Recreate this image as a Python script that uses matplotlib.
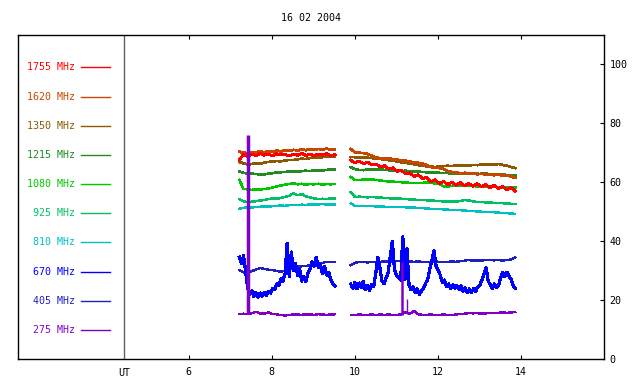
import numpy as np
import matplotlib
matplotlib.use("Agg")
import matplotlib.pyplot as plt
from matplotlib.transforms import blended_transform_factory

# channel names and colours (top to bottom in the legend)
channels = ["1755 MHz", "1620 MHz", "1350 MHz", "1215 MHz", "1080 MHz",
            "925 MHz", "810 MHz", "670 MHz", "405 MHz", "275 MHz"]
colors = ["#ff0000", "#c84600", "#8b5a00", "#228b22", "#00c800",
          "#00c064", "#00c0c0", "#0000ff", "#2020c0", "#8000c8"]

# sample times (UT hours) for the two observing runs
t1 = np.linspace(7.22, 9.52, 24)
t2 = np.linspace(9.90, 13.86, 40)
t1_fine = np.linspace(7.22, 9.52, 47)
t2_fine = np.linspace(9.90, 13.86, 80)

f1755_a = [67.6, 69.5, 68.8, 69.6, 69.0, 69.8, 69.2, 69.6, 69.0, 69.7, 69.3, 69.5,
           68.9, 69.6, 69.2, 69.8, 69.1, 69.5, 69.0, 69.6, 69.2, 69.7, 69.0, 69.4]
f1755_b = [67.5, 66.6, 67.2, 66.3, 66.8, 65.9, 66.2, 65.2, 65.6, 64.6, 64.9, 63.7,
           64.0, 62.9, 63.2, 62.0, 62.5, 61.3, 61.6, 60.2, 60.8, 59.6, 60.3, 59.2,
           60.0, 59.0, 59.9, 58.8, 59.6, 58.7, 59.5, 58.5, 59.2, 58.2, 58.9, 57.9,
           58.6, 57.4, 58.2, 57.0]

f1620_a = [70.4, 70.0, 69.9, 70.3, 70.1, 70.5, 70.2, 70.6, 70.4, 70.7, 70.5, 70.8,
           70.6, 71.0, 70.8, 71.1, 70.9, 71.2, 71.0, 71.3, 71.1, 71.4, 71.1, 71.2]
f1620_b = [71.3, 70.2, 70.0, 69.9, 69.6, 69.0, 68.4, 68.2, 68.0, 68.1, 67.8, 67.7,
           67.4, 67.3, 67.0, 66.8, 66.6, 66.3, 65.8, 65.2, 64.9, 64.8, 64.5, 63.8,
           63.5, 63.3, 63.0, 63.2, 62.9, 63.1, 62.7, 62.9, 62.6, 62.8, 62.4, 62.7,
           62.2, 62.4, 61.9, 61.5]

f1350_a = [66.9, 66.4, 66.0, 66.2, 66.5, 66.3, 66.7, 66.9, 67.0, 67.2, 67.1, 67.4,
           67.6, 67.5, 67.8, 68.0, 67.9, 68.2, 68.3, 68.4, 68.5, 68.7, 68.6, 68.8]
f1350_b = [68.6, 68.5, 68.4, 68.5, 68.3, 68.2, 68.0, 67.9, 67.7, 67.5, 67.3, 67.1,
           66.8, 66.6, 66.3, 66.1, 65.8, 65.6, 65.4, 65.3, 65.2, 65.3, 65.5, 65.6,
           65.5, 65.7, 65.6, 65.8, 65.7, 65.9, 65.8, 66.0, 65.9, 66.1, 66.0, 66.2,
           65.9, 65.6, 65.2, 64.8]

f1215_a = [63.6, 63.2, 63.0, 62.9, 62.8, 62.6, 62.7, 62.9, 63.1, 63.3, 63.4, 63.5,
           63.6, 63.7, 63.6, 63.8, 63.9, 63.8, 64.0, 64.1, 64.0, 64.2, 64.3, 64.4]
f1215_b = [65.1, 64.5, 64.2, 64.1, 64.3, 64.2, 64.4, 64.3, 64.2, 64.1, 64.0, 63.9,
           63.8, 63.9, 63.7, 63.7, 63.6, 63.5, 63.4, 63.3, 63.3, 63.2, 63.1, 63.1,
           63.0, 63.0, 62.9, 63.0, 62.9, 63.0, 62.9, 62.8, 62.9, 62.8, 62.7, 62.7,
           62.6, 62.5, 62.5, 62.4]

f1080_a = [60.8, 57.7, 57.6, 57.4, 57.6, 57.5, 57.7, 57.9, 58.2, 58.6, 58.9, 59.2,
           59.4, 59.7, 59.3, 59.5, 59.2, 59.4, 59.3, 59.5, 59.2, 59.4, 59.3, 59.4]
f1080_b = [61.8, 60.7, 60.8, 60.9, 61.0, 60.9, 60.8, 60.6, 60.4, 60.3, 60.2, 60.1,
           60.0, 59.9, 59.8, 59.7, 59.7, 59.8, 59.9, 59.8, 59.6, 59.4, 58.6, 58.5,
           58.8, 59.0, 58.9, 58.8, 58.7, 58.7, 58.6, 58.6, 58.5, 58.5, 58.4, 58.4,
           58.3, 58.3, 58.2, 58.2]

f925_a = [54.3, 53.6, 53.2, 53.4, 53.6, 53.8, 54.0, 54.3, 54.5, 54.4, 54.7, 55.0,
          55.4, 56.3, 55.6, 56.0, 55.2, 54.9, 54.5, 54.3, 54.4, 54.3, 54.5, 54.4]
f925_b = [56.6, 55.0, 55.1, 55.0, 54.9, 55.0, 54.9, 54.8, 54.7, 54.6, 54.5, 54.4,
          54.4, 54.3, 54.2, 54.1, 54.0, 54.0, 53.9, 53.8, 53.7, 53.6, 53.5, 53.5,
          53.4, 53.5, 53.6, 54.0, 53.8, 53.5, 53.3, 53.3, 53.2, 53.1, 53.0, 52.9,
          52.9, 52.8, 52.7, 52.6]

f810_a = [51.0, 51.3, 51.5, 51.4, 51.6, 51.7, 51.8, 51.7, 51.9, 52.0, 52.1, 52.0,
          52.2, 52.3, 52.2, 52.4, 52.3, 52.5, 52.4, 52.5, 52.6, 52.4, 52.5, 52.5]
f810_b = [52.8, 52.0, 51.9, 52.0, 51.9, 51.9, 51.8, 51.8, 51.7, 51.7, 51.7, 51.6,
          51.6, 51.5, 51.4, 51.4, 51.3, 51.2, 51.1, 51.0, 51.0, 50.9, 50.8, 50.7,
          50.6, 50.5, 50.5, 50.4, 50.3, 50.2, 50.1, 50.0, 50.0, 49.9, 49.8, 49.7,
          49.6, 49.5, 49.4, 49.3]

f670_a = [34.5, 32.5, 35.0, 30.0, 24.0, 22.0, 23.2, 21.2, 22.6, 21.0, 22.4, 21.3,
          22.5, 21.6, 23.0, 22.4, 24.0, 23.5, 25.5, 25.0, 27.2, 26.5, 29.0, 39.3,
          28.0, 36.3, 30.0, 32.5, 28.5, 30.5, 26.5, 28.0, 26.2, 29.0, 30.5, 33.0,
          31.5, 34.5, 31.0, 32.0, 29.0, 31.5, 28.5, 29.5, 27.0, 25.5, 24.8]
f670_b = [25.5, 24.0, 26.0, 23.8, 25.8, 24.2, 26.3, 23.5, 25.0, 23.2, 25.2, 24.5,
          29.0, 34.5, 31.0, 26.5, 25.5, 27.5, 29.5, 35.0, 40.0, 30.5, 28.5, 27.5,
          26.8, 41.5, 27.0, 37.5, 25.0, 23.5, 24.5, 22.5, 23.8, 22.0, 23.2, 24.0,
          25.8, 27.0, 30.8, 33.5, 36.8, 31.5, 30.0, 28.5, 26.0, 26.8, 24.5, 25.5,
          24.0, 25.2, 24.0, 25.0, 23.6, 24.8, 23.0, 24.2, 22.5, 23.8, 22.6, 24.0,
          23.0, 24.5, 25.0, 26.8, 29.0, 31.0, 26.5, 25.2, 24.0, 25.5, 24.2, 25.0,
          27.5, 29.5, 28.0, 29.5, 28.2, 27.0, 25.0, 24.0]

f405_a = [30.2, 29.4, 29.2, 29.8, 30.4, 30.9, 30.6, 30.3, 30.2, 29.9, 29.6, 30.0,
          30.5, 31.0, 31.3, 31.5, 31.6, 31.8, 31.9, 32.2, 32.6, 33.0, 32.9, 32.9]
f405_b = [31.8, 32.6, 33.0, 32.9, 32.8, 32.9, 33.0, 33.0, 33.1, 33.0, 33.2, 33.3,
          33.4, 33.2, 33.1, 33.0, 33.1, 33.0, 32.9, 33.0, 33.1, 33.0, 32.9, 33.0,
          33.1, 33.0, 33.2, 33.4, 33.6, 33.4, 33.5, 33.4, 33.6, 33.7, 33.5, 33.6,
          33.4, 33.6, 33.8, 34.5]

f275_a = [15.3, 15.4, 15.2, 15.6, 16.0, 15.5, 15.4, 15.8, 15.3, 15.2, 14.9, 14.8,
          14.9, 15.2, 15.1, 15.0, 15.2, 15.1, 15.0, 15.2, 15.1, 15.0, 15.1, 15.2]
f275_b = [15.0, 15.0, 15.1, 15.0, 15.0, 15.1, 15.0, 15.1, 15.0, 15.1, 15.0, 15.0,
          15.2, 16.0, 15.4, 16.3, 15.2, 15.0, 15.0, 15.1, 15.0, 15.0, 15.1, 15.0,
          15.0, 15.1, 15.3, 15.4, 15.6, 15.5, 15.6, 15.4, 15.5, 15.7, 15.6, 15.7,
          15.8, 15.7, 15.8, 16.0]

# 275 MHz bursts
burst_t = [7.42, 11.13, 11.25]
burst_lo = [15.3, 15.1, 15.2]
burst_hi = [75.9, 33.0, 20.3]
burst_w = [2.5, 1.8, 1.0]

# (first run, second run, colour index, dense sampling, line width)
series = [
    (f275_a, f275_b, 9, False, 1.0),
    (f405_a, f405_b, 8, False, 1.0),
    (f670_a, f670_b, 7, True, 1.6),
    (f810_a, f810_b, 6, False, 1.0),
    (f925_a, f925_b, 5, False, 1.1),
    (f1080_a, f1080_b, 4, False, 1.1),
    (f1215_a, f1215_b, 3, False, 1.2),
    (f1350_a, f1350_b, 2, False, 1.2),
    (f1620_a, f1620_b, 1, False, 1.3),
    (f1755_a, f1755_b, 0, False, 1.4),
]

plt.rcParams["font.family"] = "DejaVu Sans Mono"
plt.rcParams["font.size"] = 7.2

fig = plt.figure(figsize=(6.4, 3.84), dpi=100)
ax = fig.add_axes([0.028, 0.065, 0.916, 0.844])

for a, b, k, fine, lw in series:
    ta, tb = (t1_fine, t2_fine) if fine else (t1, t2)
    ax.plot(ta, a, color=colors[k], lw=lw, antialiased=False)
    ax.plot(tb, b, color=colors[k], lw=lw, antialiased=False)

ax.vlines(burst_t, burst_lo, burst_hi, colors=colors[9], linewidths=burst_w)

# legend drawn inside the left part of the frame
for i, name in enumerate(channels):
    y = 99.0 - 9.9 * i
    ax.text(3.27, y, name, color=colors[i], ha="right", va="center")
    ax.plot([3.42, 4.10], [y, y], color=colors[i], lw=1)

ax.axvline(4.44, color="#606060", lw=1)
trans = blended_transform_factory(ax.transData, ax.transAxes)
ax.text(4.44, -0.027, "UT", transform=trans, ha="center", va="top")

ax.set_xlim(1.89, 16.0)
ax.set_ylim(0, 110)
ax.set_xticks([6, 8, 10, 12, 14])
ax.set_yticks([0, 20, 40, 60, 80, 100])
ax.yaxis.tick_right()
ax.tick_params(axis="x", direction="in", top=True, bottom=True, length=3, pad=6)
ax.tick_params(axis="y", direction="in", left=False, right=True, length=3, pad=4)
for s in ax.spines.values():
    s.set_linewidth(1)

ax.set_title("16 02 2004", fontsize=7.2, pad=10)

fig.savefig("out.png", dpi=100)
